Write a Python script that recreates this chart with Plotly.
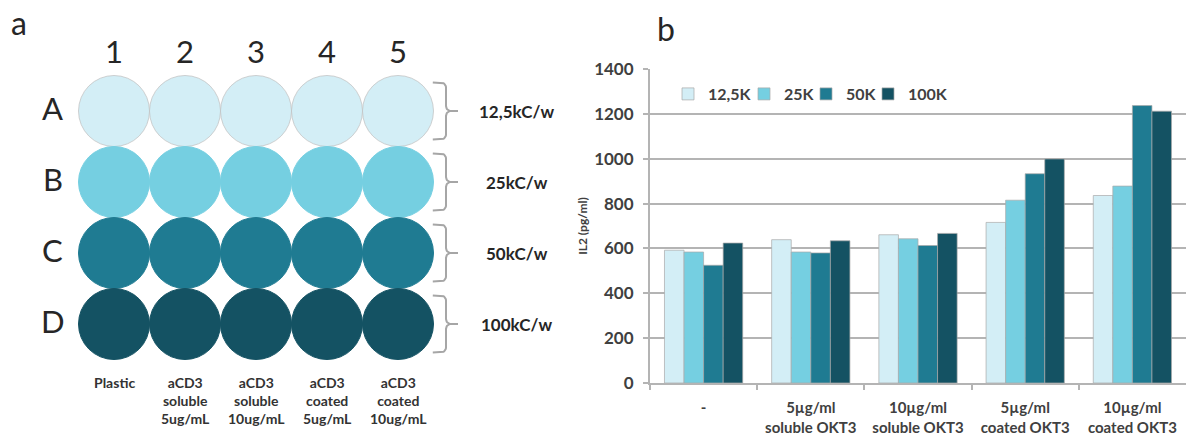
import numpy as np
import plotly.graph_objects as go

# ---------------- panel b data ----------------
categories = ["-", "5µg/ml<br>soluble OKT3", "10µg/ml<br>soluble OKT3",
              "5µg/ml<br>coated OKT3", "10µg/ml<br>coated OKT3"]
series_names = ["12,5K", "25K", "50K", "100K"]
il2_12_5k = [592, 639, 661, 716, 836]
il2_25k = [584, 584, 643, 815, 878]
il2_50k = [525, 580, 613, 933, 1237]
il2_100k = [624, 634, 667, 999, 1212]
y_ticks = [0, 200, 400, 600, 800, 1000, 1200, 1400]

# ---------------- panel a data ----------------
plate_columns = ["1", "2", "3", "4", "5"]
plate_rows = ["A", "B", "C", "D"]
row_densities = ["12,5kC/w", "25kC/w", "50kC/w", "100kC/w"]
column_treatments = ["Plastic", "aCD3<br>soluble<br>5ug/mL", "aCD3<br>soluble<br>10ug/mL",
                     "aCD3<br>coated<br>5ug/mL", "aCD3<br>coated<br>10ug/mL"]

row_colors = ["#D3EEF6", "#75CFE1", "#1F7B92", "#145263"]
GRID = "#B4B4B4"
W, H = 1188, 435
FONT = "Lato"
DARK = "#262626"
LABEL = "#404040"

fig = go.Figure()

# ---------------- bars ----------------
all_series = [il2_12_5k, il2_25k, il2_50k, il2_100k]
legend_widths = [31, 17, 17, 40]
for name, vals, col, lw in zip(series_names, all_series, row_colors, legend_widths):
    fig.add_trace(go.Bar(
        x=categories, y=vals, name=name, xaxis="x", yaxis="y",
        marker=dict(color=col, line=dict(color="rgba(170,170,170,0.7)", width=1)),
        legendwidth=lw, hoverinfo="y+name"))

# ---------------- plate circles ----------------
col_idx = np.arange(1, len(plate_columns) + 1)
row_idx = np.arange(1, len(plate_rows) + 1)
cx = np.tile(col_idx, len(plate_rows))
cy = np.repeat(row_idx, len(plate_columns))
ccol = np.repeat(row_colors, len(plate_columns))
cline = np.repeat(["rgba(190,190,190,0.7)"] + row_colors[1:], len(plate_columns))
fig.add_trace(go.Scatter(
    x=cx, y=cy, xaxis="x2", yaxis="y2", mode="markers", showlegend=False,
    hoverinfo="skip",
    marker=dict(size=71, color=list(ccol), line=dict(color=list(cline), width=1))))

# ---------------- braces ----------------
XL, XV, XT, HH, RC = 5.49, 5.676, 5.845, 0.40, 0.07
th = np.linspace(0, np.pi / 2, 10)
bx, by = [], []
for r in row_idx:
    for s in (-1, 1):
        xs = [XL]
        ys = [r + s * HH]
        xs += list(XV - RC + RC * np.sin(th))
        ys += list(r + s * HH - s * RC + s * RC * np.cos(th))
        xs += list(XV + RC - RC * np.cos(th))
        ys += list(r + s * RC - s * RC * np.sin(th))
        xs += [XT]
        ys += [r]
        bx += xs + [None]
        by += ys + [None]
fig.add_trace(go.Scatter(x=bx, y=by, xaxis="x2", yaxis="y2", mode="lines",
                         line=dict(color="#A6A6A6", width=2), showlegend=False,
                         hoverinfo="skip"))

ann = []
ann.append(dict(text="a", x=19 / W, y=1 - 23 / H, xref="paper", yref="paper",
                showarrow=False, font=dict(family=FONT, size=32, color=DARK),
                xanchor="center", yanchor="middle"))
ann.append(dict(text="b", x=666 / W, y=1 - 29 / H, xref="paper", yref="paper",
                showarrow=False, font=dict(family=FONT, size=32, color=DARK),
                xanchor="center", yanchor="middle"))
for i, t in zip(col_idx, plate_columns):
    ann.append(dict(text=t, x=i, y=0.15, xref="x2", yref="y2", showarrow=False,
                    font=dict(family=FONT, size=31, color=DARK),
                    xanchor="center", yanchor="middle"))
for j, t in zip(row_idx, plate_rows):
    ann.append(dict(text=t, x=0.14, y=j - 0.04, xref="x2", yref="y2", showarrow=False,
                    font=dict(family=FONT, size=31, color=DARK),
                    xanchor="center", yanchor="middle"))
for j, t in zip(row_idx, row_densities):
    ann.append(dict(text=t, x=6.676, y=j, xref="x2", yref="y2", showarrow=False,
                    font=dict(family=FONT, size=17, color=DARK, weight="bold"),
                    xanchor="center", yanchor="middle"))
for i, t in zip(col_idx, column_treatments):
    ann.append(dict(text=t, x=i, y=4.68, xref="x2", yref="y2", showarrow=False,
                    font=dict(family=FONT, size=14, color="#333333", weight="bold"),
                    xanchor="center", yanchor="top", align="center"))

fig.update_layout(
    width=W, height=H, margin=dict(l=0, r=0, t=0, b=0, autoexpand=False),
    paper_bgcolor="white", plot_bgcolor="rgba(0,0,0,0)",
    barmode="group", bargap=0.27, bargroupgap=0,
    font=dict(family=FONT, color=LABEL),
    xaxis=dict(domain=[650 / W, 1186 / W], anchor="y", type="category",
               automargin=False,
               showline=True, linecolor=GRID, linewidth=2,
               ticks="outside", tickson="boundaries", ticklen=5,
               tickcolor=GRID, tickwidth=2, showgrid=False,
               tickfont=dict(family=FONT, size=15, color=LABEL, weight="bold"),
               ticklabelstandoff=10),
    yaxis=dict(domain=[1 - 383 / H, 1 - 69 / H], anchor="x", range=[0, 1400],
               automargin=False,
               tickvals=y_ticks, showgrid=True, gridcolor=GRID, gridwidth=2,
               showline=True, linecolor=GRID, linewidth=2, ticks="outside",
               ticklen=5, tickcolor=GRID, tickwidth=2, zeroline=False,
               tickfont=dict(family=FONT, size=17, color=LABEL, weight="bold"),
               ticklabelstandoff=6,
               title=dict(text="IL2 (pg/ml)", standoff=4,
                          font=dict(family=FONT, size=12, color=LABEL, weight="bold"))),
    xaxis2=dict(domain=[0, 600 / W], anchor="y2", range=[1 - 114 / 71, 1 - 114 / 71 + 600 / 71],
                visible=False, fixedrange=True, automargin=False),
    yaxis2=dict(domain=[0, 1], anchor="x2",
                range=[1 - 111 / 71 + H / 71, 1 - 111 / 71], visible=False,
                fixedrange=True, automargin=False),
    legend=dict(orientation="h", x=668 / W, y=1 - 94 / H, xanchor="left", yanchor="middle",
                font=dict(family=FONT, size=16, color=LABEL, weight="bold"),
                bgcolor="rgba(0,0,0,0)"),
    annotations=ann,
    showlegend=True,
)

fig.write_html("out.html", config={"displayModeBar": False},
               post_script="document.body.style.margin='0';document.body.style.overflow='hidden';")
